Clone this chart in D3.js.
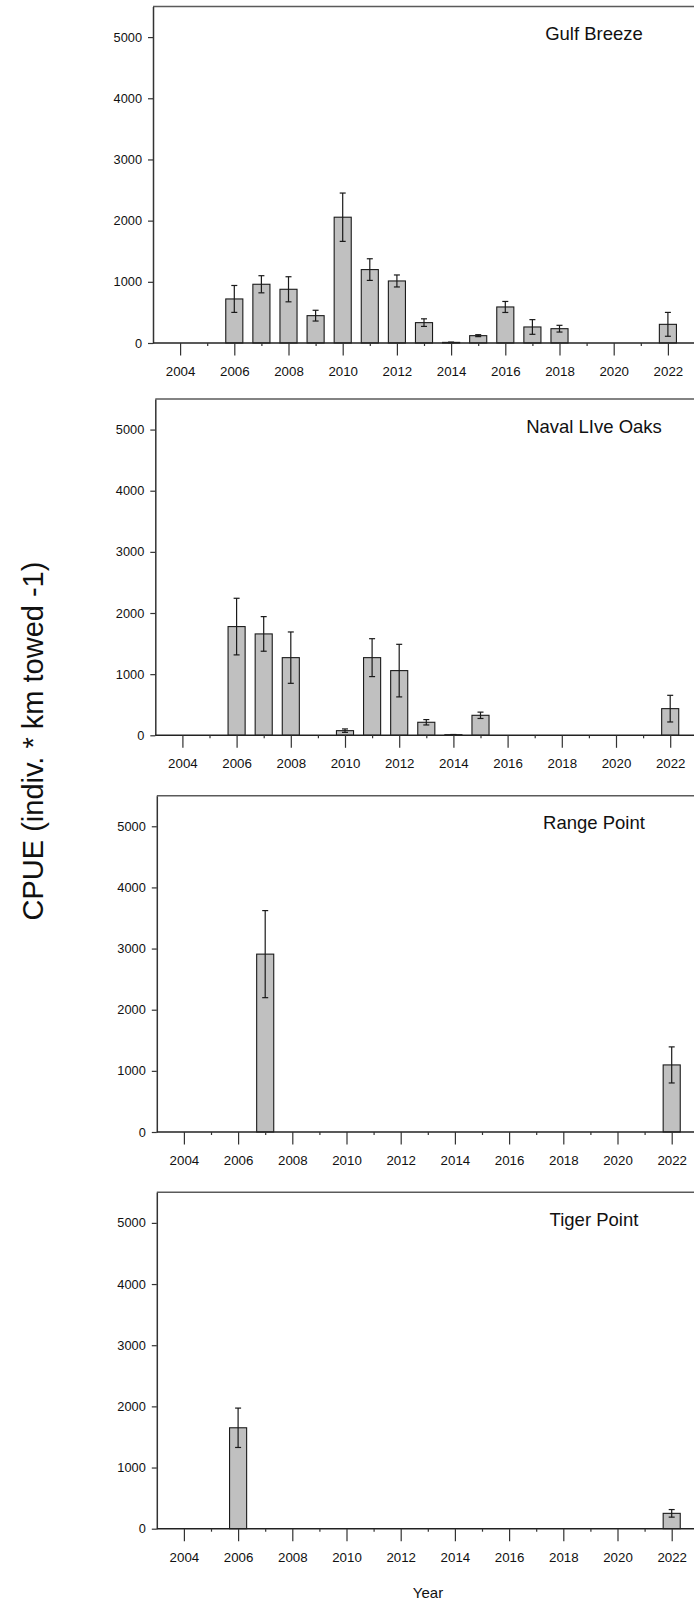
<!DOCTYPE html>
<html>
<head>
<meta charset="utf-8">
<script src="https://cdn.jsdelivr.net/npm/d3@7"></script>
<style>
  html, body { margin: 0; padding: 0; background: #fff; }
  svg { display: block; font-family: "Liberation Sans", Arial, sans-serif; }
</style>
</head>
<body>
<svg id="chart" width="694" height="1606"></svg>
<script>
// ---------------- DATA ----------------
const siteNames = ["Gulf Breeze", "Naval LIve Oaks", "Range Point", "Tiger Point"];

const gulfBreezeYears = [2006, 2007, 2008, 2009, 2010, 2011, 2012, 2013, 2014, 2015, 2016, 2017, 2018, 2022];
const gulfBreezeCPUE  = [720, 960, 878, 447, 2056, 1200, 1014, 333, 10, 120, 589, 262, 234, 305];
const gulfBreezeSE    = [220, 140, 205, 88, 395, 177, 98, 62, 5, 16, 90, 120, 55, 195];

const navalLiveOaksYears = [2006, 2007, 2008, 2010, 2011, 2012, 2013, 2014, 2015, 2022];
const navalLiveOaksCPUE  = [1778, 1658, 1270, 76, 1270, 1058, 213, 10, 327, 436];
const navalLiveOaksSE    = [463, 283, 420, 28, 310, 430, 44, 3, 52, 218];

const rangePointYears = [2007, 2022];
const rangePointCPUE  = [2909, 1097];
const rangePointSE    = [712, 295];

const tigerPointYears = [2006, 2022];
const tigerPointCPUE  = [1650, 251];
const tigerPointSE    = [322, 62];

const majorYearTicks = [2004, 2006, 2008, 2010, 2012, 2014, 2016, 2018, 2020, 2022];
const minorYearTicks = [2005, 2007, 2009, 2011, 2013, 2015, 2017, 2019, 2021];
const cpueTicks = [0, 1000, 2000, 3000, 4000, 5000];

const yLabel = "CPUE (indiv. * km towed -1)";
const xLabel = "Year";

// ---------------- LAYOUT ----------------
const sites = [
  { name: siteNames[0], years: gulfBreezeYears, cpue: gulfBreezeCPUE, se: gulfBreezeSE },
  { name: siteNames[1], years: navalLiveOaksYears, cpue: navalLiveOaksCPUE, se: navalLiveOaksSE },
  { name: siteNames[2], years: rangePointYears, cpue: rangePointCPUE, se: rangePointSE },
  { name: siteNames[3], years: tigerPointYears, cpue: tigerPointCPUE, se: tigerPointSE }
];
const panelBoxes = [
  { top: 6.5, zero: 343, left: 153 },
  { top: 399, zero: 735.3, left: 155.3 },
  { top: 795.7, zero: 1132, left: 156.8 },
  { top: 1192.3, zero: 1528.7, left: 156.8 }
];
const pxPerYear = 27.1;
const barWidthYears = 0.63;

const svg = d3.select("#chart");

sites.forEach((site, i) => {
  const box = panelBoxes[i];
  const x = d3.scaleLinear().domain([2003, 2023]).range([box.left, box.left + 20 * pxPerYear]);
  const y = d3.scaleLinear().domain([0, 5500]).range([box.zero, box.top]);
  const g = svg.append("g");

  // top frame
  g.append("line")
    .attr("x1", x(2003)).attr("x2", 694)
    .attr("y1", y(5500)).attr("y2", y(5500))
    .attr("stroke", "#5a5a5a").attr("stroke-width", 1.5);

  const rows = site.years.map((yr, k) => ({ year: yr, v: site.cpue[k], se: site.se[k] }));

  // bars
  const bw = x(2003 + barWidthYears) - x(2003);
  g.selectAll("rect.bar").data(rows).enter().append("rect")
    .attr("class", "bar")
    .attr("x", d => x(d.year) - bw / 2)
    .attr("width", bw)
    .attr("y", d => y(d.v))
    .attr("height", d => y(0) - y(d.v))
    .attr("fill", "#c0c0c0")
    .attr("stroke", "#1a1a1a")
    .attr("stroke-width", 1.1);

  // error bars
  const cap = 3;
  const eb = g.selectAll("g.err").data(rows).enter().append("g").attr("class", "err")
    .attr("stroke", "#1a1a1a").attr("stroke-width", 1.2);
  eb.append("line")
    .attr("x1", d => x(d.year)).attr("x2", d => x(d.year))
    .attr("y1", d => y(d.v + d.se)).attr("y2", d => y(Math.max(0, d.v - d.se)));
  eb.append("line")
    .attr("x1", d => x(d.year) - cap).attr("x2", d => x(d.year) + cap)
    .attr("y1", d => y(d.v + d.se)).attr("y2", d => y(d.v + d.se));
  eb.append("line")
    .attr("x1", d => x(d.year) - cap).attr("x2", d => x(d.year) + cap)
    .attr("y1", d => y(Math.max(0, d.v - d.se))).attr("y2", d => y(Math.max(0, d.v - d.se)));

  // y axis
  const ya = g.append("g")
    .attr("transform", `translate(${x(2003)},0)`)
    .call(d3.axisLeft(y).tickValues(cpueTicks).tickSizeInner(5).tickSizeOuter(0).tickPadding(6).tickFormat(d3.format("d")));
  ya.select(".domain").attr("stroke", "#333").attr("stroke-width", 1.5);
  ya.selectAll(".tick line").attr("stroke", "#333").attr("stroke-width", 1.2);
  ya.selectAll(".tick text").attr("font-size", "12.8px").attr("fill", "#111")
    .attr("font-family", "'Liberation Sans', Arial, sans-serif");

  // x axis (major)
  const xa = g.append("g")
    .attr("transform", `translate(0,${y(0)})`)
    .call(d3.axisBottom(x).tickValues(majorYearTicks).tickSizeInner(12.5).tickSizeOuter(0).tickPadding(11).tickFormat(d3.format("d")));
  xa.select(".domain").attr("stroke", "#222").attr("stroke-width", 1.6)
    .attr("d", `M${x(2003)},0H694`);
  xa.selectAll(".tick line").attr("stroke", "#333").attr("stroke-width", 1.2);
  xa.selectAll(".tick text").attr("font-size", "13.3px").attr("fill", "#111")
    .attr("font-family", "'Liberation Sans', Arial, sans-serif");

  // x axis (minor)
  const xm = g.append("g")
    .attr("transform", `translate(0,${y(0)})`)
    .call(d3.axisBottom(x).tickValues(minorYearTicks).tickSizeInner(3).tickSizeOuter(0).tickFormat(""));
  xm.select(".domain").remove();
  xm.selectAll(".tick line").attr("stroke", "#333").attr("stroke-width", 1.2);

  // site title
  g.append("text")
    .attr("x", 594)
    .attr("y", box.top + 33.5)
    .attr("text-anchor", "middle")
    .attr("font-size", "18.5px")
    .attr("fill", "#111")
    .text(site.name);
});

// axis titles
svg.append("text")
  .attr("transform", "translate(43,741) rotate(-90)")
  .attr("text-anchor", "middle")
  .attr("font-size", "29px")
  .attr("fill", "#111")
  .text(yLabel);

svg.append("text")
  .attr("x", 428)
  .attr("y", 1598)
  .attr("text-anchor", "middle")
  .attr("font-size", "15px")
  .attr("fill", "#111")
  .text(xLabel);
</script>
</body>
</html>
